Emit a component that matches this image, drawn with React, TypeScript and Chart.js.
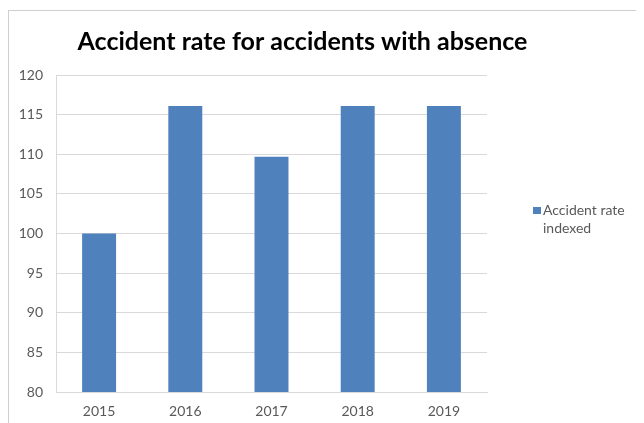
import Chart from "chart.js/auto";
import { useEffect, useRef } from "react";

const years = ["2015", "2016", "2017", "2018", "2019"];
const accidentRate = [100, 116.1, 109.7, 116.1, 116.1];
const seriesLabel = "Accident rate indexed";
const legendLines = ["Accident rate", "indexed"];
const chartTitle = "Accident rate for accidents with absence";

const BAR_BLUE = "#4F81BD";
const GRID = "#D9D9D9";
const TEXT_GRAY = "#595959";
const FONT = "Lato, 'Open Sans', sans-serif";

// title + legend are drawn by hand, Excel style (legend wraps on two lines)
const excelDecor = {
  id: "excelDecor",
  afterDraw(chart: Chart) {
    const ctx = chart.ctx;
    ctx.save();
    ctx.fillStyle = "#000000";
    ctx.font = `bold 25px ${FONT}`;
    ctx.textAlign = "center";
    ctx.textBaseline = "alphabetic";
    ctx.fillText(chartTitle, 294.5, 42);

    ctx.fillStyle = BAR_BLUE;
    ctx.fillRect(525, 199, 8, 7);
    ctx.fillStyle = TEXT_GRAY;
    ctx.font = `14px ${FONT}`;
    ctx.textAlign = "left";
    ctx.textBaseline = "middle";
    legendLines.forEach((line, i) => {
      ctx.fillText(line, 535, 202 + i * 18);
    });
    ctx.restore();
  },
};

export default function App() {
  const canvasNode = useRef<HTMLCanvasElement | null>(null);

  useEffect(() => {
    document.body.style.overflow = "hidden";
    if (!canvasNode.current) return;
    const chart = new Chart(canvasNode.current, {
      type: "bar",
      data: {
        labels: years,
        datasets: [
          {
            label: seriesLabel,
            data: accidentRate,
            backgroundColor: BAR_BLUE,
            barPercentage: 0.394,
            categoryPercentage: 1,
          },
        ],
      },
      options: {
        responsive: false,
        animation: false,
        layout: { padding: { top: 67, right: 157, bottom: 0, left: 0 } },
        plugins: {
          legend: { display: false },
          title: { display: false },
          tooltip: { enabled: false },
        },
        scales: {
          x: {
            grid: { display: false, drawTicks: false },
            border: { display: true, color: GRID, width: 1 },
            ticks: {
              color: TEXT_GRAY,
              font: { family: FONT, size: 14 },
              padding: 11,
            },
            afterFit: (scale) => {
              scale.height = 31;
            },
          },
          y: {
            min: 80,
            max: 120,
            grid: { color: GRID, lineWidth: 1, drawTicks: false },
            border: { display: true, color: GRID, width: 1 },
            ticks: {
              stepSize: 5,
              color: TEXT_GRAY,
              font: { family: FONT, size: 14 },
              padding: 13,
            },
            afterFit: (scale) => {
              scale.width = 48;
            },
          },
        },
      },
      plugins: [excelDecor],
    });
    return () => {
      chart.destroy();
    };
  }, []);

  return (
    <div
      style={{
        position: "relative",
        width: "636px",
        height: "415px",
        overflow: "hidden",
        background: "#ffffff",
      }}
    >
      <div
        style={{
          position: "absolute",
          left: 0,
          top: "2px",
          width: "700px",
          height: "500px",
          border: "1px solid #cfcfcf",
        }}
      />
      <canvas
        ref={canvasNode}
        width={636}
        height={415}
        style={{ position: "absolute", left: 0, top: 0 }}
      />
    </div>
  );
}
